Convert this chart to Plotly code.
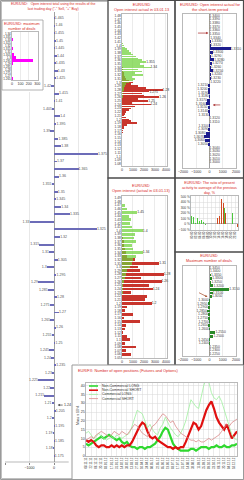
import plotly.graph_objects as go

W, H = 244, 480
FONT = "Liberation Sans, Arial, sans-serif"
RED = "#d8281e"
GRID = "#d8d8d8"
LINE = "#8a8a8a"
DARK = "#4a4a4a"

# ---------------- data ----------------
deals_prices = [1.340, 1.335, 1.330, 1.325, 1.320, 1.315, 1.310, 1.305,
                1.300, 1.295, 1.290, 1.285, 1.280, 1.275, 1.270, 1.265]
deals_values = [5, 0, 8, 0, 5, 10, 0, 20, 50, 250, 10, 5, 0, 5, 0, 8]

tall_prices = [1.465, 1.460, 1.455, 1.450, 1.445, 1.440, 1.435, 1.430, 1.425, 1.420,
               1.415, 1.410, 1.405, 1.400, 1.395, 1.390, 1.385, 1.380, 1.375, 1.370,
               1.365, 1.360, 1.355, 1.350, 1.345, 1.340, 1.335, 1.330, 1.325, 1.320,
               1.315, 1.310, 1.305, 1.300, 1.295, 1.290, 1.285, 1.280, 1.275, 1.270,
               1.265, 1.260, 1.255, 1.250, 1.245, 1.240, 1.235, 1.230, 1.225, 1.220,
               1.215, 1.210, 1.205, 1.200, 1.195, 1.190, 1.185, 1.180, 1.175]
tall_values = [30, 60, 40, 80, 50, 120, 70, 150, 90, -120,
               200, 60, -80, 250, 100, -150, 180, 300, 1800, 120,
               1000, 200, -100, 150, 90, 300, 650, -1000, 1750, 250,
               -600, -200, 150, -300, 100, -650, -250, 120, -180, 200,
               -150, 80, -100, 60, -200, -120, 90, -80, -650, -150,
               -400, -100, 70, -90, 50, -60, 40, -50, 30]

m1_prices = [1.405, 1.400, 1.395, 1.390, 1.385, 1.380, 1.375, 1.370, 1.365, 1.360,
             1.355, 1.350, 1.345, 1.340, 1.335, 1.330, 1.325, 1.320, 1.315, 1.310,
             1.305, 1.300, 1.295, 1.290, 1.285, 1.280, 1.275, 1.270, 1.265, 1.260,
             1.255, 1.250, 1.245, 1.240, 1.235, 1.230, 1.225, 1.220, 1.215, 1.210,
             1.205, 1.200, 1.195, 1.190, 1.185, 1.180, 1.175, 1.170, 1.165]
m1_buy = [100, 200, 300, 500, 600, 800, 1000, 1300, 1500, 1800,
          2200, 1600, 2000, 2600, 1500, 1800, 1200, 1900, 900, 1200,
          1000, 600, 400, 300, 200, 150, 100, 80, 60, 50,
          40, 30, 20, 20, 10, 10, 0, 0, 0, 0,
          0, 0, 0, 0, 0, 0, 0, 0, 0]
m1_sell = [0, 0, 0, 0, 0, 0, 0, 0, 0, 0,
           0, 0, 0, 50, 80, 100, 150, 200, 300, 400,
           600, 1000, 800, 1500, 2200, 3700, 2500, 1800, 2000, 3400,
           1500, 2400, 900, 2600, 1200, 800, 600, 400, 300, 200,
           400, 600, 800, 1400, 500, 200, 150, 100, 50]

m2_prices = [1.47, 1.46, 1.45, 1.44, 1.43, 1.42, 1.41, 1.40, 1.39, 1.38,
             1.37, 1.36, 1.35, 1.34, 1.33, 1.32, 1.31, 1.30, 1.29, 1.28,
             1.27, 1.26, 1.25, 1.24, 1.23, 1.22, 1.21, 1.20, 1.19, 1.18,
             1.17, 1.16, 1.15, 1.14, 1.13, 1.12, 1.11, 1.10, 1.09, 1.08,
             1.07, 1.06]
m2_buy = [300, 500, 1400, 600, 800, 700, 900, 1900, 1200, 1100,
          1300, 900, 1000, 1900, 1300, 1000, 900, 700, 500, 400,
          300, 200, 100, 80, 50, 40, 30, 20, 10, 10,
          0, 0, 0, 0, 0, 0, 0, 0, 0, 0,
          0, 0]
m2_sell = [0, 0, 0, 0, 0, 0, 0, 0, 0, 100,
           150, 200, 300, 400, 500, 1200, 3400, 1500, 1600, 3800,
           1700, 3600, 2500, 2800, 800, 2300, 2100, 2700, 500, 300,
           1000, 200, 1600, 400, 300, 100, 500, 700, 300, 1300,
           400, 800]

r1_prices = [1.340, 1.339, 1.338, 1.337, 1.336, 1.335, 1.334, 1.333, 1.332, 1.331,
             1.330, 1.329, 1.328, 1.327, 1.326, 1.325, 1.324, 1.323, 1.322, 1.321,
             1.320, 1.319, 1.318, 1.317, 1.316, 1.315, 1.314, 1.313, 1.312, 1.311,
             1.310, 1.309, 1.308, 1.307, 1.306, 1.305, 1.304, 1.303, 1.302, 1.301,
             1.300]
r1_values = [0, 0, 0, 0, 0, 0, 60, 150, 80, 1600,
             250, 120, 350, 200, 100, 250, 150, 80, 60, -100,
             -150, -80, -60, -200, -250, -150, -100, -40, 0, 0,
             -50, -80, -300, -400, -350, -100, 0, 0, 0, 0,
             0]

ratio_hours = ["00:00", "01:00", "02:00", "03:00", "04:00", "05:00", "06:00", "07:00",
               "08:00", "09:00", "10:00", "11:00", "12:00", "13:00", "14:00", "15:00",
               "16:00", "17:00", "18:00", "19:00", "20:00", "21:00", "22:00", "23:00"]
ratio_green = [150, 120, 20, 100, 60, 80, 30, -20, 0, 0, 0, 0,
               0, 30, 0, 0, 0, 300, 0, 0, 0, 200, 0, 0]
ratio_red = [0, 0, 0, 0, 0, 0, 0, 0, 0, 0, -40, -60,
             -30, 100, 150, 450, 380, 200, 0, 0, 0, 0, 0, -50]

r3_prices = [1.345, 1.340, 1.335, 1.330, 1.325, 1.320, 1.315, 1.310, 1.305, 1.300,
             1.295, 1.290, 1.285, 1.280, 1.275, 1.270, 1.265, 1.260, 1.255, 1.250,
             1.245, 1.240, 1.235, 1.230, 1.225]
r3_values = [0, 40, 120, 200, 150, 300, 1500, 250, 180, -60,
             -150, -100, -200, -80, -120, -50, -90, -40, 450, 300,
             -60, -30, 0, 0, 0]

cot_dates = ["08.11.11", "15.11.11", "22.11.11", "29.11.11", "06.12.11", "13.12.11",
             "20.12.11", "27.12.11", "03.01.12", "10.01.12", "17.01.12", "24.01.12",
             "31.01.12", "07.02.12", "14.02.12", "21.02.12", "28.02.12", "06.03.12",
             "13.03.12", "20.03.12", "27.03.12", "03.04.12", "10.04.12", "17.04.12",
             "24.04.12", "01.05.12", "08.05.12", "15.05.12", "22.05.12", "29.05.12",
             "05.06.12", "12.06.12", "19.06.12", "26.06.12", "03.07.12", "10.07.12",
             "17.07.12", "24.07.12", "31.07.12", "07.08.12", "14.08.12", "21.08.12",
             "28.08.12", "04.09.12", "11.09.12", "18.09.12", "25.09.12", "02.10.12",
             "09.10.12", "16.10.12", "23.10.12", "30.10.12", "06.11.12", "13.11.12",
             "20.11.12", "27.11.12", "04.12.12", "11.12.12", "18.12.12", "25.12.12"]
nc_long = [7, 6, 7, 8, 9, 10, 11, 10, 11, 12,
           11, 10, 9, 10, 8, 7, 8, 6,
           5, 5, 4, 5, 5, 4, 5, 5, 6,
           7, 9, 11, 14, 16, 15,
           11, 7, 5, 4, 3, 3,
           3, 3, 4, 4, 3, 4, 5, 5, 5, 4, 5, 5, 6, 5, 5, 6, 5, 5, 6, 6, 7]
nc_short = [9, 8, 9, 8,
            6, 5, 6, 6, 5, 5, 6, 5, 6, 5, 6, 5, 6, 6,
            8, 11, 14, 17, 19,
            18, 14, 11, 10,
            11, 9, 8, 7,
            6, 5, 5, 4, 5, 4, 5, 5,
            8, 12, 16, 19,
            18, 15, 17,
            22, 26, 29, 31,
            27, 22, 19, 17,
            15, 18, 14,
            10, 12, 14]
c_long = [13, 14, 12, 10, 11, 13,
          11, 10, 9, 10, 11, 10, 12, 11, 10, 11, 12, 13,
          17, 22, 26, 25, 24,
          20, 16, 18, 15, 13,
          12, 16, 18, 22, 19,
          16, 14, 12, 11, 13, 16,
          20, 26, 32, 30, 28,
          27, 34, 40, 44, 42, 36,
          33, 32, 34, 31, 26,
          22, 16, 12, 10, 9]
c_short = [9, 10, 11, 10, 12, 13,
           14, 13, 12, 11, 12, 14, 13, 12, 14, 13, 12, 14,
           16, 18, 17, 15, 13,
           12, 11, 14, 17, 18,
           20, 22, 24, 23, 21,
           19, 20, 17, 15, 13, 12,
           11, 10, 9, 9, 8,
           9, 8, 8, 9, 10, 9,
           10, 11, 12, 14, 16,
           18, 17, 19, 20, 21]
cot_names = ["Non-Commercial LONG", "Non-Commercial SHORT", "Commercial LONG", "Commercial SHORT"]
cot_colors = ["#2fd82f", "#e01010", "#9ef09e", "#d98a8a"]
cot_widths = [2.2, 2.2, 0.8, 0.8]


# ---------------- helpers ----------------
def dx(a, b):
    return [a / W, b / W]


def dy(top, bot):
    return [1 - bot / H, 1 - top / H]


def px(x):
    return x / W


def py(y):
    return 1 - y / H


fig = go.Figure()


def label_trace(prices, values, fmt, xa, ya, size=3.5, color="#444444"):
    pos = [(v, p) for p, v in zip(prices, values) if v >= 0]
    neg = [(v, p) for p, v in zip(prices, values) if v < 0]
    for pts, tp in ((pos, "middle right"), (neg, "middle left")):
        if pts:
            fig.add_trace(go.Scatter(
                x=[a for a, _ in pts], y=[b for _, b in pts], mode="text",
                text=[fmt(b) for _, b in pts], textposition=tp,
                textfont=dict(size=size, color=color, family=FONT),
                xaxis=xa, yaxis=ya, showlegend=False, hoverinfo="skip",
                cliponaxis=False))


def big_labels(prices, values, thr, xa, ya, size=3.4):
    sel = [(v, p) for p, v in zip(prices, values) if v >= thr]
    fig.add_trace(go.Scatter(
        x=[a for a, _ in sel], y=[b for _, b in sel], mode="text",
        text=[f"{b:g}" for _, b in sel], textposition="middle right",
        textfont=dict(size=size, color="#333333", family=FONT),
        xaxis=xa, yaxis=ya, showlegend=False, hoverinfo="skip", cliponaxis=False))


# Panel A: maximum number of deals
fig.add_trace(go.Bar(x=deals_values, y=deals_prices, orientation="h", width=0.0035,
                     marker=dict(color="#ff00ff", line=dict(width=0)),
                     xaxis="x", yaxis="y", showlegend=False))

# Tall panel: total open interest
fig.add_trace(go.Bar(x=tall_values, y=tall_prices, orientation="h", width=0.0013,
                     marker=dict(color="#6c6cb8", line=dict(width=0)),
                     xaxis="x2", yaxis="y2", showlegend=False))
label_trace(tall_prices, tall_values, lambda p: f"{p:g}", "x2", "y2", size=3.6, color="#555555")

# M1
fig.add_trace(go.Bar(x=m1_sell, y=m1_prices, orientation="h", width=0.0042,
                     marker=dict(color="#c8352d", line=dict(width=0)),
                     xaxis="x3", yaxis="y3", showlegend=False))
fig.add_trace(go.Bar(x=m1_buy, y=m1_prices, orientation="h", width=0.0042, opacity=0.72,
                     marker=dict(color="#6fd23a", line=dict(width=0)),
                     xaxis="x3", yaxis="y3", showlegend=False))
big_labels(m1_prices, m1_buy, 2200, "x3", "y3")
big_labels(m1_prices, m1_sell, 2400, "x3", "y3")

# M2
fig.add_trace(go.Bar(x=m2_sell, y=m2_prices, orientation="h", width=0.0075,
                     marker=dict(color="#c8352d", line=dict(width=0)),
                     xaxis="x4", yaxis="y4", showlegend=False))
fig.add_trace(go.Bar(x=m2_buy, y=m2_prices, orientation="h", width=0.0075, opacity=0.72,
                     marker=dict(color="#6fd23a", line=dict(width=0)),
                     xaxis="x4", yaxis="y4", showlegend=False))
big_labels(m2_prices, m2_buy, 1400, "x4", "y4")
big_labels(m2_prices, m2_sell, 2700, "x4", "y4")

# R1 short-term
fig.add_trace(go.Bar(x=r1_values, y=r1_prices, orientation="h", width=0.0008,
                     marker=dict(color="#1c1c8e", line=dict(width=0)),
                     xaxis="x5", yaxis="y5", showlegend=False))
label_trace(r1_prices, r1_values, lambda p: f"{p:.4f}", "x5", "y5", size=3.4)

# R2 ratio
fig.add_trace(go.Bar(x=ratio_hours, y=ratio_green, offset=-0.44, width=0.42,
                     marker=dict(color="#4cc83c", line=dict(width=0)),
                     xaxis="x6", yaxis="y6", showlegend=False))
fig.add_trace(go.Bar(x=ratio_hours, y=ratio_red, offset=0.02, width=0.42,
                     marker=dict(color="#d04a22", line=dict(width=0)),
                     xaxis="x6", yaxis="y6", showlegend=False))

# R3 maximum deals
fig.add_trace(go.Bar(x=r3_values, y=r3_prices, orientation="h", width=0.0038,
                     marker=dict(color="#2a8a2a", line=dict(width=0)),
                     xaxis="x7", yaxis="y7", showlegend=False))
label_trace(r3_prices, r3_values, lambda p: f"{p:.4f}", "x7", "y7", size=3.4)

# Bottom COT lines
for ser, name, col, wd in zip([nc_long, nc_short, c_long, c_short], cot_names, cot_colors, cot_widths):
    fig.add_trace(go.Scatter(x=cot_dates, y=ser, mode="lines", name=name,
                             line=dict(color=col, width=wd),
                             xaxis="x8", yaxis="y8", showlegend=False))


# ---------------- axes ----------------
def ax(domain, anchor, **kw):
    d = dict(domain=domain, anchor=anchor, showline=True, mirror=True, linecolor=LINE,
             linewidth=0.6, showgrid=True, gridcolor=GRID, gridwidth=0.5, zeroline=False,
             ticks="", tickfont=dict(size=3.6, color="#333333", family=FONT), fixedrange=True)
    d.update(kw)
    return d


layout = dict(
    width=W, height=H, margin=dict(l=0, r=0, t=0, b=0), autosize=False,
    paper_bgcolor="white", plot_bgcolor="rgba(0,0,0,0)", barmode="overlay",
    bargap=0, showlegend=False, font=dict(family=FONT, size=4),
    template="none",
)

layout["xaxis"] = ax(dx(12, 38), "y", range=[0, 310], tickvals=[0, 100, 200, 300])
layout["yaxis"] = ax(dy(32, 80), "x", range=[1.2625, 1.3425], dtick=0.005, tick0=1.0,
                     showgrid=False, tickfont=dict(size=3.0, color="#333333", family=FONT))

layout["xaxis2"] = ax(dx(5, 103), "y2", range=[-2000, 2000], tickvals=[-2000, -1000, 0],
                      showline=False, showgrid=False, zeroline=True, zerolinecolor="#8a8a8a",
                      zerolinewidth=0.8, ticks="outside", ticklen=2, tickcolor=LINE)
layout["yaxis2"] = ax(dy(12, 462), "x2", range=[1.171, 1.469], showline=False,
                      showgrid=False, showticklabels=False)

layout["xaxis3"] = ax(dx(122, 167), "y3", range=[0, 4100], tickvals=[0, 1000, 2000, 3000, 4000])
layout["yaxis3"] = ax(dy(14, 166), "x3", range=[1.074, 1.485], dtick=0.01, tick0=1.0,
                      showgrid=False, tickfont=dict(size=3.2, color="#333333", family=FONT))

layout["xaxis4"] = ax(dx(122, 167), "y4", range=[0, 4100], tickvals=[0, 1000, 2000, 3000, 4000])
layout["yaxis4"] = ax(dy(196, 358), "x4", range=[1.05, 1.4955], dtick=0.01, tick0=1.0,
                      showgrid=False, tickfont=dict(size=3.2, color="#333333", family=FONT))

layout["xaxis5"] = ax(dx(183, 236), "y5", range=[-2000, 2000],
                      tickvals=[-2000, -1000, 0, 1000, 2000], zeroline=True,
                      zerolinecolor="#8a8a8a", zerolinewidth=0.8)
layout["yaxis5"] = ax(dy(14, 168), "x5", range=[1.2985, 1.3405], showgrid=False,
                      showticklabels=False)

layout["xaxis6"] = ax(dx(191, 238), "y6", type="category", tickangle=-90,
                      tickfont=dict(size=2.8, color="#333333", family=FONT))
layout["yaxis6"] = ax(dy(196, 230), "x6", range=[-110, 510], dtick=100, ticksuffix=" %",
                      zeroline=True, zerolinecolor="#8a8a8a", zerolinewidth=0.6,
                      tickfont=dict(size=3.2, color="#333333", family=FONT))

layout["xaxis7"] = ax(dx(183, 236), "y7", range=[-2000, 2000],
                      tickvals=[-2000, -1000, 0, 1000, 2000], zeroline=True,
                      zerolinecolor="#8a8a8a", zerolinewidth=0.8)
layout["yaxis7"] = ax(dy(266, 356), "x7", range=[1.2225, 1.3475], showgrid=False,
                      showticklabels=False)

layout["xaxis8"] = ax(dx(86, 237), "y8", type="category", tickangle=-90,
                      tickfont=dict(size=2.9, color="#333333", family=FONT))
layout["yaxis8"] = ax(dy(383, 456), "x8", range=[0, 41.5], dtick=5,
                      tickfont=dict(size=3.6, color="#333333", family=FONT))

fig.update_layout(**layout)


# ---------------- frames ----------------
def rect(x0, y0, x1, y1, color=LINE, width=0.8, fill=None, layer="below"):
    fig.add_shape(type="rect", xref="paper", yref="paper",
                  x0=px(x0), x1=px(x1), y0=py(y1), y1=py(y0),
                  line=dict(color=color, width=width),
                  fillcolor=fill if fill else "rgba(0,0,0,0)", layer=layer)


rect(0.5, 0.5, 243.5, 479.5, color="#9a9a9a", width=1)
rect(1.5, 1.5, 108, 478.5, color="#b0b0b0", width=0.8)
rect(2, 20, 43, 90, color="#a0a0a0", width=0.8, fill="white")
rect(108, 0.5, 175, 178, color=DARK, width=1.2)
rect(108, 178, 175, 365, color=DARK, width=1.2)
rect(175, 0.5, 243.5, 178, color=DARK, width=1.2)
rect(175, 178, 243.5, 252, color=DARK, width=1.2)
rect(175, 252, 243.5, 365, color=DARK, width=1.2)
rect(72, 365, 243.5, 479.5, color="#9a9a9a", width=1, fill="white")

# light guide lines inside the tall panel
fig.add_shape(type="line", xref="x2", yref="paper", x0=1000, x1=1000, y0=py(365), y1=py(12),
              line=dict(color=GRID, width=0.6), layer="below")
fig.add_shape(type="line", xref="x2", yref="paper", x0=-1000, x1=-1000, y0=py(462), y1=py(92),
              line=dict(color=GRID, width=0.6), layer="below")
fig.add_shape(type="line", xref="x2", yref="paper", x0=-2000, x1=600, y0=py(462), y1=py(462),
              line=dict(color=LINE, width=0.6), layer="below")


# ---------------- texts ----------------
def note(text, x, y, size=4, color=RED, xanchor="center", **kw):
    fig.add_annotation(text=text, x=px(x), y=py(y), xref="paper", yref="paper",
                       showarrow=False, xanchor=xanchor, yanchor="middle",
                       font=dict(size=size, color=color, family=FONT), **kw)


note("EUR/USD:   Open interest total using the results of the<br>last trading day (\"-\" Sell, \"+\" Buy)",
     53, 7, size=3.5)
note("EUR/USD: maximum<br>number of deals", 22, 26, size=3.8)
note("EUR/USD<br>Open interest actual in 03.01.13", 141, 7, size=3.9)
note("EUR/USD: Open interest actual for<br>the short-term period", 210, 7, size=3.9)
note("EUR/USD<br>Open interest (actual in 03.01.13)", 141, 188, size=3.9)
note("EUR/USD: The ratio of present<br>activity to average of the previous<br>day, %", 209, 188, size=3.7)
note("EUR/USD<br>Maximum number of deals", 209, 258, size=3.9)
note("EUR/FX: Number of open positions (Futures and Options)", 76, 370, size=3.9, xanchor="left")
note("Mass x 10^4", 78, 415, size=3.5, color="#333333", textangle=-90)

# legend of the bottom chart
for i, (name, col, wd) in enumerate(zip(cot_names, cot_colors, cot_widths)):
    yy = 386 + i * 4.2
    fig.add_shape(type="line", xref="paper", yref="paper", x0=px(89), x1=px(98),
                  y0=py(yy), y1=py(yy), line=dict(color=col, width=min(wd, 1.6)))
    note(name, 99.5, yy, size=3.5, color="#333333", xanchor="left")

# arrows
fig.add_annotation(x=-80, y=1.3353, xref="x5", yref="y5", text="", showarrow=True,
                   ax=-12, ay=0, arrowhead=2, arrowsize=0.6, arrowwidth=0.8, arrowcolor="#b04040")
fig.add_annotation(x=250, y=1.3157, xref="x5", yref="y5", text="", showarrow=True,
                   ax=9, ay=0, arrowhead=2, arrowsize=0.6, arrowwidth=0.8, arrowcolor="#b04040")
fig.add_annotation(x=-150, y=1.3045, xref="x7", yref="y7", text="", showarrow=True,
                   ax=-10, ay=-5, arrowhead=2, arrowsize=0.6, arrowwidth=0.8, arrowcolor="#b06040")
fig.add_annotation(x=150, y=1.2087, xref="x2", yref="y2", text="1.24", showarrow=True,
                   ax=10, ay=0, arrowhead=2, arrowsize=0.6, arrowwidth=0.8, arrowcolor="#555555",
                   font=dict(size=3.6, color="#333333", family=FONT))

fig.write_html("out.html", config={"displayModeBar": False, "staticPlot": True})
